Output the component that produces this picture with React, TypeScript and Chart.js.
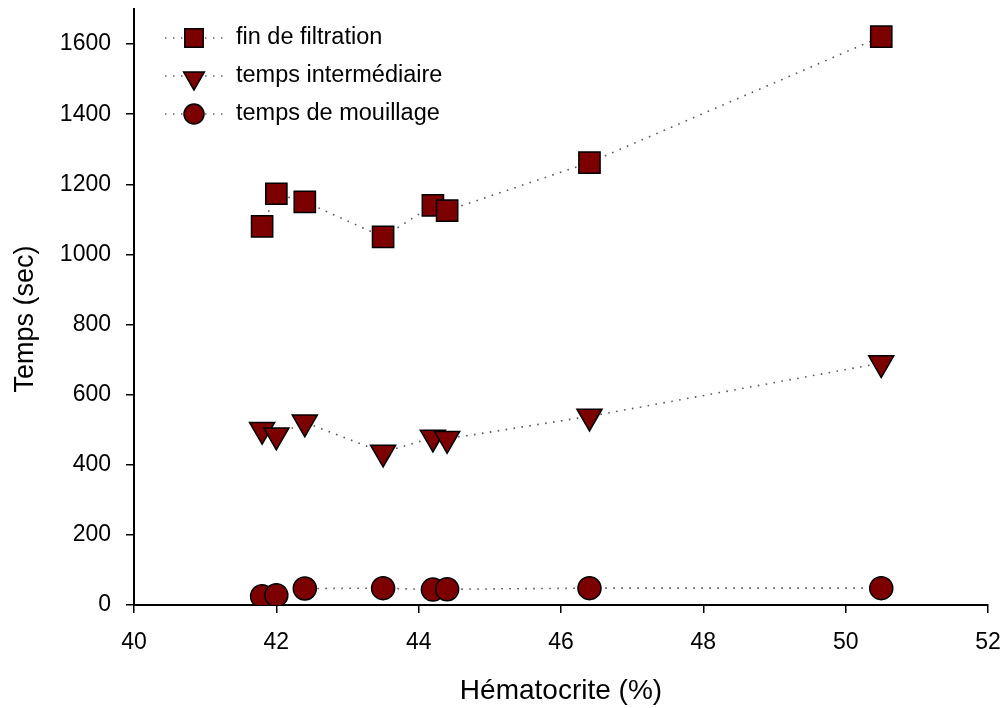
import React, { useEffect, useRef } from 'react';
import { Chart, registerables } from 'chart.js';

Chart.register(...registerables);

// ---- data ----
const hematocrite = [41.8, 42.0, 42.4, 43.5, 44.2, 44.4, 46.4, 50.5];
const finFiltration = [1080, 1173, 1150, 1050, 1140, 1125, 1262, 1621];
const tempsIntermediaire = [500, 484, 521, 435, 478, 474, 538, 690];
const tempsMouillage = [25, 28, 47, 48, 44, 45, 48, 48];
const seriesLabels = ['fin de filtration', 'temps intermédiaire', 'temps de mouillage'];
const xTickValues = [40, 42, 44, 46, 48, 50, 52];
const yTickValues = [0, 200, 400, 600, 800, 1000, 1200, 1400, 1600];
const xTitle = 'Hématocrite (%)';
const yTitle = 'Temps (sec)';

const MAROON = '#7d0000';
const FONT = 'Arial, "Liberation Sans", Helvetica, sans-serif';

function drawMarker(ctx: CanvasRenderingContext2D, style: string, x: number, y: number, r: number) {
  ctx.beginPath();
  if (style === 'rect') {
    const s = r * Math.SQRT1_2;
    ctx.rect(x - s, y - s, 2 * s, 2 * s);
  } else if (style === 'triangle') {
    for (let k = 0; k < 3; k++) {
      const a = Math.PI + (k * 2 * Math.PI) / 3;
      const px = x + Math.sin(a) * r;
      const py = y - Math.cos(a) * r;
      if (k === 0) ctx.moveTo(px, py);
      else ctx.lineTo(px, py);
    }
    ctx.closePath();
  } else {
    ctx.arc(x, y, r, 0, Math.PI * 2);
  }
  ctx.fill();
  ctx.stroke();
}

const legendPlugin = {
  id: 'customLegend',
  afterDraw(chart: any) {
    const ctx: CanvasRenderingContext2D = chart.ctx;
    const { left, top, bottom } = chart.chartArea;
    const styles = ['rect', 'triangle', 'circle'];
    const radii = [13, 12, 10];
    chart.data.datasets.forEach((ds: any, i: number) => {
      const y = top + 29 + i * 38;
      ctx.save();
      ctx.strokeStyle = '#666';
      ctx.lineWidth = 1.5;
      ctx.setLineDash([1.5, 6.5]);
      ctx.beginPath();
      ctx.moveTo(left + 31, y);
      ctx.lineTo(left + 92, y);
      ctx.stroke();
      ctx.setLineDash([]);
      ctx.fillStyle = MAROON;
      ctx.strokeStyle = '#000';
      ctx.lineWidth = 1.5;
      drawMarker(ctx, styles[i], left + 60, y + (i === 1 ? 2 : 0), radii[i]);
      ctx.fillStyle = '#000';
      ctx.font = `23.5px ${FONT}`;
      ctx.textBaseline = 'middle';
      ctx.textAlign = 'left';
      ctx.fillText(ds.label, left + 102, y);
      ctx.restore();
    });
    // y axis title
    ctx.save();
    ctx.translate(26, (top + bottom) / 2 + 12);
    ctx.rotate(-Math.PI / 2);
    ctx.fillStyle = '#000';
    ctx.font = `27px ${FONT}`;
    ctx.textAlign = 'center';
    ctx.textBaseline = 'middle';
    ctx.fillText(yTitle, 0, 0);
    ctx.restore();
  },
};

function makeSeries(values: number[]) {
  return hematocrite.map((x, i) => ({ x, y: values[i] }));
}

export default function App() {
  const ref = useRef<HTMLCanvasElement>(null);

  useEffect(() => {
    if (!ref.current) return;
    const common = {
      showLine: true,
      borderColor: '#5a5a5a',
      borderWidth: 1.6,
      borderDash: [1.6, 6.4],
      pointBackgroundColor: MAROON,
      pointBorderColor: '#000',
      pointBorderWidth: 1.5,
      pointHoverRadius: 0,
      fill: false,
    };
    const chart = new Chart(ref.current, {
      type: 'scatter',
      data: {
        datasets: [
          { ...common, label: seriesLabels[0], data: makeSeries(finFiltration), pointStyle: 'rect', pointRadius: 15 },
          { ...common, label: seriesLabels[1], data: makeSeries(tempsIntermediaire), pointStyle: 'triangle', pointRotation: 180, pointRadius: 14.5 },
          { ...common, label: seriesLabels[2], data: makeSeries(tempsMouillage), pointStyle: 'circle', pointRadius: 11.5 },
        ],
      },
      options: {
        animation: false,
        responsive: false,
        devicePixelRatio: 1,
        layout: { autoPadding: false, padding: { top: 9, right: 15, left: 0, bottom: 0 } },
        plugins: {
          legend: { display: false },
          tooltip: { enabled: false },
        },
        scales: {
          x: {
            type: 'linear',
            min: xTickValues[0],
            max: xTickValues[xTickValues.length - 1],
            afterBuildTicks: (axis: any) => {
              axis.ticks = xTickValues.map((v) => ({ value: v }));
            },
            afterFit: (scale: any) => {
              scale.height = 103;
              scale.paddingLeft = 0;
              scale.paddingRight = 0;
            },
            grid: { display: true, drawOnChartArea: false, drawTicks: true, tickLength: 8, color: '#000', lineWidth: 1.5 },
            border: { display: true, color: '#000', width: 2 },
            ticks: { color: '#000', padding: 16, font: { family: FONT, size: 23 }, maxRotation: 0, callback: (v: any) => String(v) },
            title: { display: true, text: xTitle, color: '#000', font: { family: FONT, size: 28 }, padding: { top: 0, bottom: 0 } },
          },
          y: {
            type: 'linear',
            min: 0,
            max: 1700,
            afterBuildTicks: (axis: any) => {
              axis.ticks = yTickValues.map((v) => ({ value: v }));
            },
            afterFit: (scale: any) => {
              scale.width = 134;
              scale.paddingTop = 0;
              scale.paddingBottom = 0;
            },
            grid: { display: true, drawOnChartArea: false, drawTicks: true, tickLength: 8, color: '#000', lineWidth: 1.5 },
            border: { display: true, color: '#000', width: 2 },
            ticks: { color: '#000', padding: 15, font: { family: FONT, size: 23 }, callback: (v: any) => String(v) },
            title: { display: false, text: yTitle },
          },
        },
      },
      plugins: [legendPlugin],
    } as any);
    return () => chart.destroy();
  }, []);

  return (
    <div style={{ position: 'fixed', left: 0, top: 0, width: 1003, height: 708, background: '#fff' }}>
      <canvas ref={ref} width={1003} height={708} style={{ width: 1003, height: 708, display: 'block' }} />
    </div>
  );
}
